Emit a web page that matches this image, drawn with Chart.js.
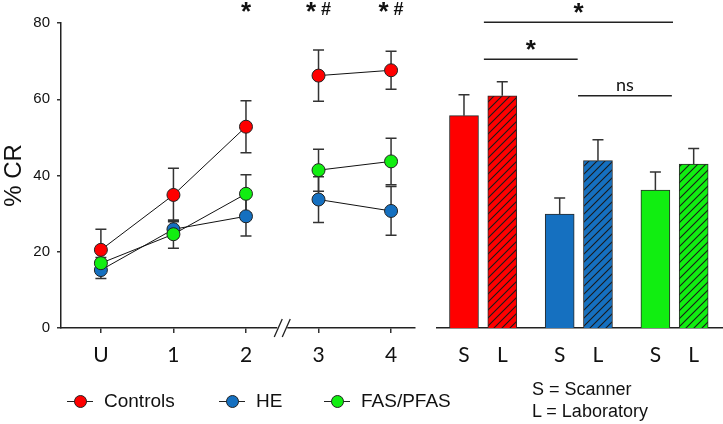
<!DOCTYPE html>
<html lang="en">
<head>
<meta charset="UTF-8">
<title>% CR</title>
<script src="https://cdn.jsdelivr.net/npm/chart.js@4"></script>
<style>
  * { margin: 0; padding: 0; box-sizing: border-box; }
  body { width: 723px; height: 424px; background: #fff; position: relative; overflow: hidden; font-family: 'Liberation Sans', Arial, sans-serif; color: #111; }
  canvas { position: absolute; top: 0; }
  #lineChart { left: 0; }
  #barChart { left: 430px; }
  .leg { position: absolute; top: 390px; height: 22px; display: flex; align-items: center; font-size: 19px; white-space: nowrap; }
  .mk { position: relative; width: 26px; height: 14px; margin-right: 11px; }
  .mk::before { content: ''; position: absolute; left: 0; right: 0; top: 6.5px; border-top: 1px solid #222; }
  .mk span { position: absolute; left: 6.5px; top: 0.5px; width: 13px; height: 13px; border-radius: 50%; border: 1px solid #222; }
  .note { position: absolute; left: 532px; top: 378px; font-size: 18px; line-height: 22px; white-space: nowrap; }
</style>
</head>
<body>
<canvas id="lineChart" width="430" height="424"></canvas>
<canvas id="barChart" width="293" height="424"></canvas>

<div class="leg" style="left:67px"><div class="mk"><span style="background:#ff0000"></span></div>Controls</div>
<div class="leg" style="left:219px"><div class="mk"><span style="background:#1570c0"></span></div>HE</div>
<div class="leg" style="left:324px"><div class="mk"><span style="background:#11ee11"></span></div>FAS/PFAS</div>
<div class="note">S = Scanner<br>L = Laboratory</div>

<script>
// --- datos: sesiones (panel izquierdo) ---
const xLabels = ['U', '1', '2', '3', '4'];
const controls = [20.5, 34.9, 52.8, 66.2, 67.6];
const controlsErr = [5.4, 7.0, 6.8, 6.7, 5.0];
const he = [15.2, 25.9, 29.3, 33.7, 30.7];
const heErr = [2.2, 2.2, 5.2, 6.0, 6.4];
const fas = [17.0, 24.6, 35.2, 41.4, 43.7];
const fasErr = [1.5, 3.7, 5.0, 5.5, 6.1];
const sessionSig = ['', '', '*', '*#', '*#'];
const breakAt = 2.5;

// --- datos: barras (panel derecho) ---
const barLabels = ['S', 'L', 'S', 'L', 'S', 'L'];
const barPos = [0, 1, 2.5, 3.5, 5, 6];
const barVals = [55.7, 60.9, 29.9, 43.9, 36.2, 43.0];
const barErr = [5.5, 3.7, 4.2, 5.5, 4.7, 4.1];
// comparaciones: [desde, hasta, altura, etiqueta]
const brackets = [
  [0.52, 5.46, 80.2, '*'],
  [0.52, 2.97, 70.5, '*'],
  [2.98, 5.43, 60.9, 'ns']
];

const RED = '#ff0000', BLUE = '#1570c0', GREEN = '#11ee11';
const INK = '#222';

function hatch(color) {
  const c = document.createElement('canvas');
  c.width = c.height = 8;
  const g = c.getContext('2d');
  g.fillStyle = color;
  g.fillRect(0, 0, 8, 8);
  g.strokeStyle = '#1a1a1a';
  g.lineWidth = 1.1;
  g.beginPath();
  g.moveTo(0, 8); g.lineTo(8, 0);
  g.moveTo(-1, 1); g.lineTo(1, -1);
  g.moveTo(7, 9); g.lineTo(9, 7);
  g.stroke();
  return g.createPattern(c, 'repeat');
}

function star(ctx, x, cy) {
  ctx.font = 'bold 26px "Liberation Sans"';
  ctx.textAlign = 'center';
  ctx.textBaseline = 'alphabetic';
  ctx.fillText('*', x, cy + 10.5);
}

function errCap(ctx, x, y0, y1) {
  ctx.beginPath();
  ctx.moveTo(x, y0); ctx.lineTo(x, y1);
  ctx.moveTo(x - 5.5, y1); ctx.lineTo(x + 5.5, y1);
  ctx.stroke();
}

const errorBars = {
  id: 'errorBars',
  beforeDatasetsDraw(chart) {
    const { ctx, scales: { x, y } } = chart;
    ctx.save();
    ctx.strokeStyle = '#333';
    ctx.lineWidth = 1.5;
    chart.data.datasets.forEach(ds => {
      ds.data.forEach((p, i) => {
        const e = ds.errors[i];
        const px = x.getPixelForValue(p.x);
        errCap(ctx, px, y.getPixelForValue(p.y), y.getPixelForValue(p.y + e));
        errCap(ctx, px, y.getPixelForValue(p.y), y.getPixelForValue(p.y - e));
      });
    });
    ctx.restore();
  }
};

const axisBreak = {
  id: 'axisBreak',
  afterDraw(chart) {
    const { ctx, scales: { x } } = chart;
    const px = x.getPixelForValue(breakAt);
    const py = x.top;
    ctx.save();
    ctx.fillStyle = '#fff';
    ctx.fillRect(px - 5, py - 2, 10, 4);
    ctx.strokeStyle = INK;
    ctx.lineWidth = 1.3;
    ctx.beginPath();
    [-4, 4].forEach(d => {
      ctx.moveTo(px + d - 4, py + 9);
      ctx.lineTo(px + d + 4, py - 9);
    });
    ctx.stroke();
    ctx.restore();
  }
};

const sessionMarks = {
  id: 'sessionMarks',
  afterDraw(chart) {
    const { ctx, scales: { x } } = chart;
    ctx.save();
    ctx.fillStyle = '#111';
    sessionSig.forEach((s, i) => {
      if (!s) return;
      const px = x.getPixelForValue(i);
      if (s === '*') { star(ctx, px, 9.5); return; }
      star(ctx, px - 7.5, 9.5);
      ctx.font = 'bold 18px "Liberation Sans"';
      ctx.textAlign = 'center';
      ctx.textBaseline = 'alphabetic';
      ctx.fillText('#', px + 7.5, 15);
    });
    ctx.restore();
  }
};

function line(label, vals, errs, color, order) {
  return {
    label,
    data: vals.map((v, i) => ({ x: i, y: v })),
    errors: errs,
    order,
    borderColor: '#111',
    borderWidth: 1,
    pointRadius: 6.5,
    pointBorderWidth: 1,
    pointBorderColor: INK,
    pointBackgroundColor: color,
    segment: { borderColor: c => (c.p0.parsed.x < breakAt && c.p1.parsed.x > breakAt) ? 'transparent' : '#111' }
  };
}

new Chart(document.getElementById('lineChart'), {
  type: 'line',
  data: {
    datasets: [
      line('Controls', controls, controlsErr, RED, 0),
      line('HE', he, heErr, BLUE, 2),
      line('FAS/PFAS', fas, fasErr, GREEN, 1)
    ]
  },
  options: {
    responsive: false,
    animation: false,
    devicePixelRatio: 1,
    layout: { padding: { top: 23, right: 15, left: 0, bottom: 0 } },
    plugins: { legend: { display: false }, tooltip: { enabled: false } },
    scales: {
      x: {
        type: 'linear', min: -0.55, max: 4.33,
        afterBuildTicks: s => { s.ticks = xLabels.map((_, i) => ({ value: i })); },
        afterFit: s => { s.height = 96; },
        grid: { drawOnChartArea: false, tickLength: 5, color: '#333', lineWidth: 1.5 },
        border: { color: INK, width: 1.5 },
        ticks: { callback: v => xLabels[v], font: { family: 'Lato', size: 21 }, color: '#111', padding: 10, maxRotation: 0 }
      },
      y: {
        min: 0, max: 80,
        afterFit: s => { s.width = 61; },
        grid: { drawOnChartArea: false, tickLength: 4, color: '#333', lineWidth: 1.5 },
        border: { color: INK, width: 1.5 },
        ticks: { stepSize: 20, font: { family: 'Liberation Sans', size: 15 }, color: '#111', padding: 7 },
        title: { display: true, text: '% CR', font: { family: 'Liberation Sans', size: 24 }, color: '#111', padding: 0 }
      }
    }
  },
  plugins: [errorBars, axisBreak, sessionMarks]
});

// --- panel derecho ---
const barColors = [RED, RED, BLUE, BLUE, GREEN, GREEN];
const barFill = barColors.map((c, i) => barLabels[i] === 'L' ? hatch(c) : c);

const barExtras = {
  id: 'barExtras',
  afterDraw(chart) {
    const { ctx, scales: { x, y } } = chart;
    ctx.save();
    ctx.strokeStyle = '#333';
    ctx.lineWidth = 1.5;
    barPos.forEach((p, i) => {
      const px = x.getPixelForValue(p);
      errCap(ctx, px, y.getPixelForValue(barVals[i]), y.getPixelForValue(barVals[i] + barErr[i]));
    });
    ctx.strokeStyle = INK;
    ctx.lineWidth = 1.6;
    ctx.fillStyle = '#111';
    brackets.forEach(([a, b, h, lab]) => {
      const x0 = x.getPixelForValue(a), x1 = x.getPixelForValue(b), py = y.getPixelForValue(h);
      ctx.beginPath();
      ctx.moveTo(x0, py); ctx.lineTo(x1, py);
      ctx.stroke();
      const mx = (x0 + x1) / 2;
      if (lab === '*') star(ctx, mx, py - 11.5);
      else {
        ctx.font = '18px Lato';
        ctx.textAlign = 'center';
        ctx.textBaseline = 'alphabetic';
        ctx.fillText(lab, mx, py - 5);
      }
    });
    ctx.restore();
  }
};

new Chart(document.getElementById('barChart'), {
  type: 'bar',
  data: {
    datasets: [{
      data: barPos.map((p, i) => ({ x: p, y: barVals[i] })),
      backgroundColor: barFill,
      borderColor: '#2a2a2a',
      borderWidth: 1,
      barThickness: 29
    }]
  },
  options: {
    responsive: false,
    animation: false,
    devicePixelRatio: 1,
    layout: { padding: { top: 23, right: 1, left: 7, bottom: 0 } },
    plugins: { legend: { display: false }, tooltip: { enabled: false } },
    scales: {
      x: {
        type: 'linear', min: -0.705, max: 6.74, offset: false,
        afterBuildTicks: s => { s.ticks = barPos.map(v => ({ value: v })); },
        afterFit: s => { s.height = 96; },
        grid: { drawOnChartArea: false, tickLength: 5, color: 'transparent', offset: false },
        border: { color: INK, width: 1.5 },
        ticks: { callback: v => barLabels[barPos.indexOf(v)], font: { family: 'Lato', size: 21 }, color: '#111', padding: 10, maxRotation: 0 }
      },
      y: { display: false, min: 0, max: 80 }
    }
  },
  plugins: [barExtras]
});
</script>
</body>
</html>
